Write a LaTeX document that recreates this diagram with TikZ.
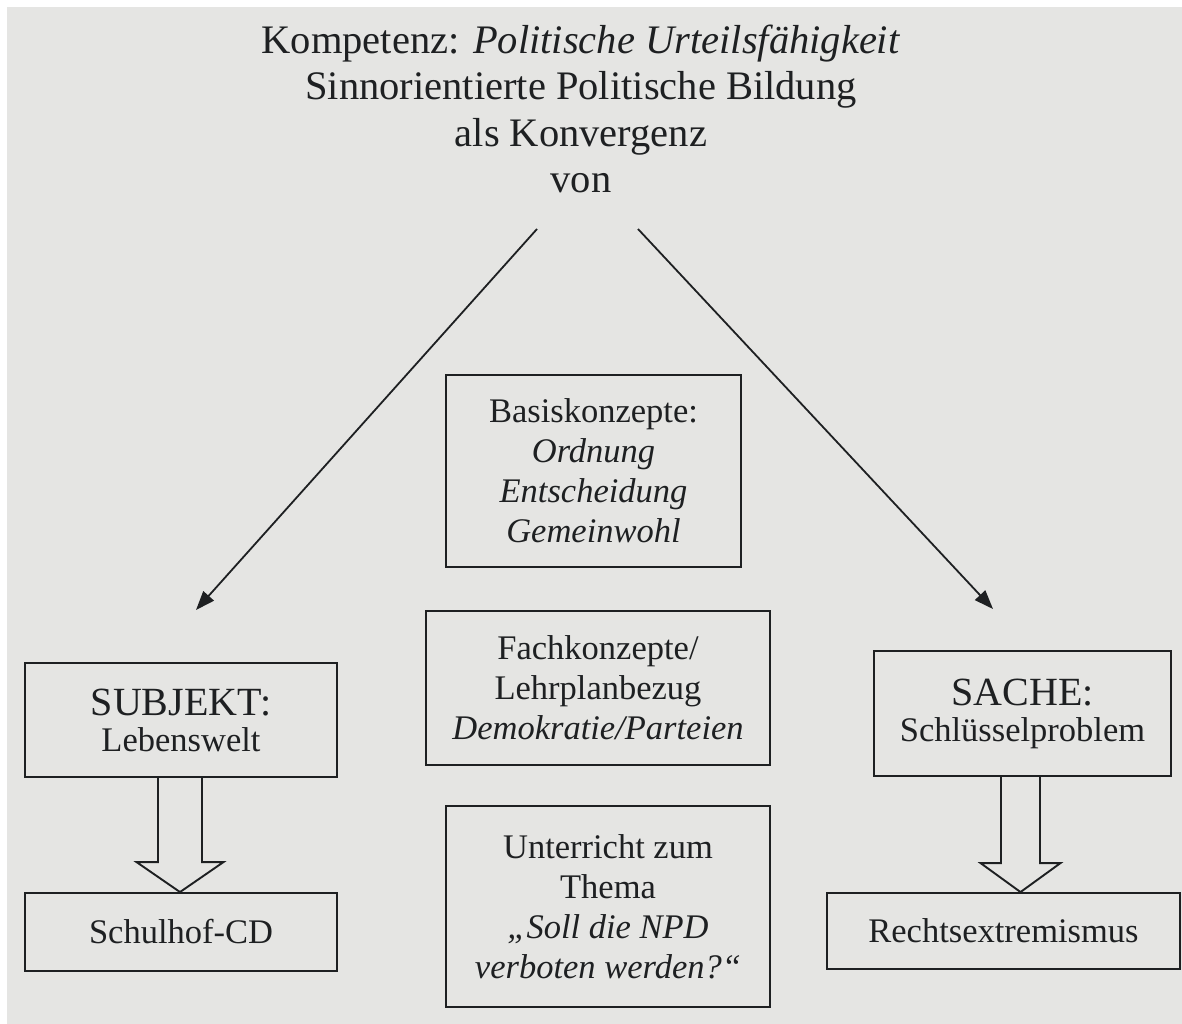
\documentclass[tikz,border=0pt]{standalone}
\usepackage{fontspec}
\setmainfont{Liberation Serif}
\usetikzlibrary{arrows.meta,calc}
\definecolor{bggray}{RGB}{229,229,227}
\definecolor{linec}{RGB}{30,32,34}
\begin{document}
\begin{tikzpicture}[x=1pt,y=-1pt,
  boxnode/.style={draw=linec, line width=1.9pt, inner sep=0pt, align=center, text=linec,
    font=\fontsize{34.5}{40}\selectfont},
  diagarrow/.style={draw=linec, line width=1.8pt, -{Triangle[length=19pt,width=14pt]}},
  hollow/.style={draw=linec, line width=1.9pt, line join=miter},
  bigword/.style={font=\fontsize{40}{46}\selectfont}]
\useasboundingbox (0,0) rectangle (1182,1024);
\fill[white] (0,0) rectangle (1182,1024);
\fill[bggray] (7,7) rectangle (1182,1024);

\node[align=center, text=linec, font=\fontsize{40.5}{46.5}\selectfont, inner sep=0pt] (title) at (581,109)
  {Kompetenz: \textit{Politische Urteilsfähigkeit}\\
   Sinnorientierte Politische Bildung\\
   als Konvergenz\\
   von};

\node[boxnode, minimum width=295pt, minimum height=192pt] (basis) at (593.5,471)
  {Basiskonzepte:\\ \textit{Ordnung}\\ \textit{Entscheidung}\\ \textit{Gemeinwohl}};
\node[boxnode, minimum width=344pt, minimum height=154pt] (fach) at (598,688)
  {Fachkonzepte/\\ Lehrplanbezug\\ \textit{Demokratie/Parteien}};
\node[boxnode, minimum width=324pt, minimum height=201pt] (unter) at (608,906.5)
  {Unterricht zum\\ Thema\\ \textit{„Soll die NPD}\\ \textit{verboten werden?“}};

\node[boxnode, minimum width=312pt, minimum height=114pt] (subj) at (181,720)
  {{\fontsize{40}{46}\selectfont SUBJEKT:}\\[-4pt] Lebenswelt};
\node[boxnode, minimum width=312pt, minimum height=78pt] (schul) at (181,932)
  {Schulhof-CD};
\node[boxnode, minimum width=297pt, minimum height=125pt] (sache) at (1022.5,713.5)
  {{\fontsize{40}{46}\selectfont SACHE:}\\[-4pt] Schlüsselproblem};
\node[boxnode, minimum width=353pt, minimum height=76pt] (rechts) at (1003.5,931)
  {Rechtsextremismus};

% diagonal arrows
\coordinate (ls) at (537,229);
\coordinate (le) at (196,610);
\coordinate (rs) at (638,229);
\coordinate (re) at (993,609);
\draw[diagarrow] (ls) -- (le);
\draw[diagarrow] (rs) -- (re);

% hollow block arrows
\coordinate (la) at (180,0);
\coordinate (ra) at (1020.5,0);
\draw[hollow] ($(subj.south -| la)+(-22,0)$) -- ($(schul.north -| la)+(-22,-30)$)
  -- ($(schul.north -| la)+(-43.5,-30)$) -- (schul.north -| la)
  -- ($(schul.north -| la)+(43.5,-30)$) -- ($(schul.north -| la)+(22,-30)$)
  -- ($(subj.south -| la)+(22,0)$);
\draw[hollow] ($(sache.south -| ra)+(-19.5,0)$) -- ($(rechts.north -| ra)+(-19.5,-29)$)
  -- ($(rechts.north -| ra)+(-40,-29)$) -- (rechts.north -| ra)
  -- ($(rechts.north -| ra)+(40,-29)$) -- ($(rechts.north -| ra)+(19.5,-29)$)
  -- ($(sache.south -| ra)+(19.5,0)$);
\end{tikzpicture}
\end{document}
